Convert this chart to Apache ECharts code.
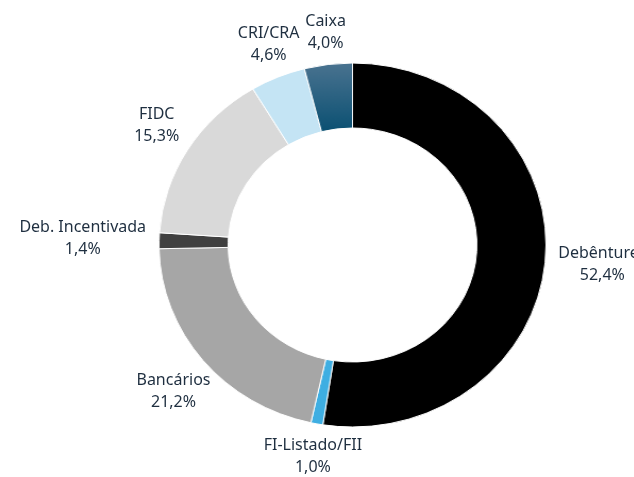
<!DOCTYPE html>
<html>
<head>
<meta charset="utf-8">
<script src="https://cdn.jsdelivr.net/npm/echarts@6/dist/echarts.min.js"></script>
<style>
    html, body { margin: 0; padding: 0; background: #fff; }
    #wrap { position: relative; width: 634px; height: 477px; overflow: hidden; }
    #ring, #labels { position: absolute; left: 0; top: 0; width: 634px; height: 477px; }
    /* o donut do original é levemente achatado (elipse) */
    #ring { transform: scaleX(1.063); transform-origin: 352.5px 245px; }
</style>
</head>
<body>
<div id="wrap">
    <div id="ring"></div>
    <div id="labels"></div>
</div>
<script>
/* ========== Alocação por classe de ativo ========== */

const categorias = ["Debêntures", "FI-Listado/FII", "Bancários", "Deb. Incentivada", "FIDC", "CRI/CRA", "Caixa"];
const valores = [52.4, 1.0, 21.2, 1.4, 15.3, 4.6, 4.0];
const cores = [
    "#000000",
    "#3eaee2",
    "#a6a6a6",
    "#404040",
    "#d9d9d9",
    "#c4e4f4",
    new echarts.graphic.LinearGradient(0, 0, 0, 1, [
        { offset: 0, color: "#4a7390" },
        { offset: 1, color: "#0a5072" },
    ]),
];

const CX = 352.5, CY = 245;
const R_IN = 117, R_OUT = 182, SX = 1.063;

const dados = categorias.map((nome, i) => ({
    name: nome,
    value: valores[i],
    itemStyle: { color: cores[i] },
}));

// anel (esticado via CSS)
const ringChart = echarts.init(document.getElementById("ring"));
ringChart.setOption({
    animation: false,
    series: [{
        type: "pie",
        center: [CX, CY],
        radius: [R_IN, R_OUT],
        startAngle: 90,
        clockwise: true,
        silent: true,
        label: { show: false },
        labelLine: { show: false },
        itemStyle: { borderColor: "#ffffff", borderWidth: 1 },
        data: dados,
    }],
});

// rótulos (sem esticar o texto)
const total = valores.reduce((a, b) => a + b, 0);
const meioAngulo = [];
let acum = 0;
valores.forEach(v => {
    meioAngulo.push((acum + v / 2) / total * Math.PI * 2);
    acum += v;
});

function posRotulo(i, w, h) {
    const ux = Math.sin(meioAngulo[i]);
    const uy = -Math.cos(meioAngulo[i]);
    const rx = R_OUT * SX, ry = R_OUT;
    const r = 1 / Math.sqrt((ux / rx) ** 2 + (uy / ry) ** 2);
    const a = w / 2, b = h / 2 - 3;
    const d = Math.min(Math.abs(ux) > 1e-6 ? a / Math.abs(ux) : 1e9, Math.abs(uy) > 1e-6 ? b / Math.abs(uy) : 1e9);
    const dist = r + 13 + d;
    return { x: CX + dist * ux, y: CY + dist * uy };
}

const labelChart = echarts.init(document.getElementById("labels"));
labelChart.setOption({
    animation: false,
    series: [{
        type: "pie",
        center: [CX, CY],
        radius: [R_IN, R_OUT],
        startAngle: 90,
        clockwise: true,
        silent: true,
        itemStyle: { color: "transparent" },
        label: {
            show: true,
            position: "outside",
            overflow: "none",
            color: "#1f2f40",
            fontFamily: "Noto Sans",
            fontSize: 16,
            lineHeight: 22,
            align: "center",
            formatter: p => `${p.name}\n${p.value.toFixed(1).replace(".", ",")}%`,
        },
        labelLine: { show: false },
        labelLayout: params => {
            const pos = posRotulo(params.dataIndex, params.labelRect.width, params.labelRect.height);
            return { x: pos.x, y: pos.y, align: "center", verticalAlign: "middle" };
        },
        data: categorias.map((nome, i) => ({ name: nome, value: valores[i] })),
    }],
});
</script>
</body>
</html>
